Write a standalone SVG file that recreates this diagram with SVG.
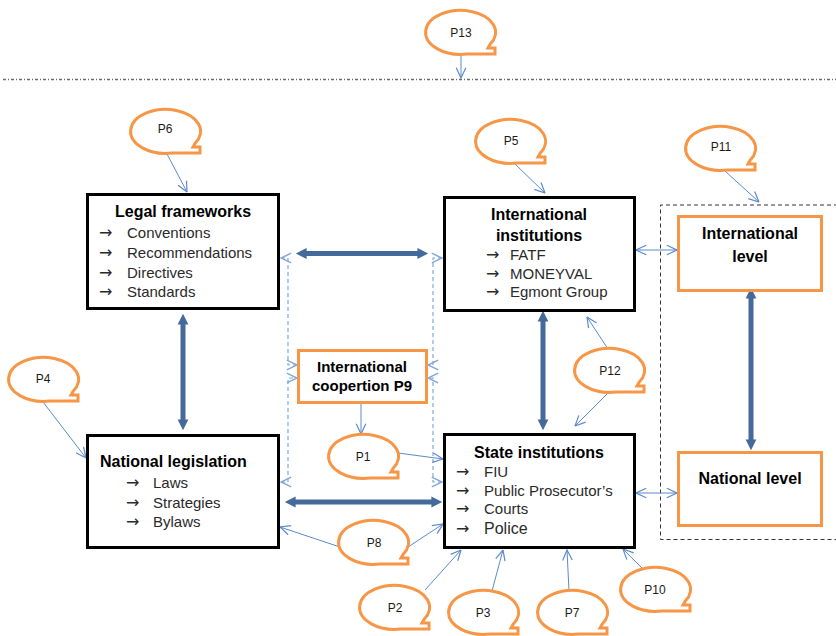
<svg xmlns="http://www.w3.org/2000/svg" width="836" height="636" viewBox="0 0 836 636">
  <style>
    .box { fill: #ffffff; stroke: #000000; stroke-width: 3; }
    .obox { fill: #ffffff; stroke: #F79646; stroke-width: 3; }
    .bubble { fill: #ffffff; stroke: #F79646; stroke-width: 3; stroke-linejoin: miter; }
    .title { font-family: "Liberation Sans", Arial, sans-serif; font-weight: bold; font-size: 16px; fill: #000000; }
    .item { font-family: "Liberation Sans", Arial, sans-serif; font-size: 15px; fill: #2a2a2a; }
    .arr { font-family: "DejaVu Sans", "Liberation Sans", sans-serif; font-size: 16px; fill: #2a2a2a; }
    .plabel { font-family: "Liberation Sans", Arial, sans-serif; font-size: 12px; fill: #1a1a1a; text-anchor: middle; }
    .thin { fill: none; stroke: #5B8BCF; stroke-width: 1; }
    .thick { fill: none; stroke: #44699B; stroke-width: 5; }
    .dash { fill: none; stroke: #80A8DA; stroke-width: 1.2; stroke-dasharray: 4 3; }
  </style>
  <defs>
    <!-- oval speech bubble with a small square tail at the lower right -->
    <path id="bubble" d="M 7,21 A 35 22 0 1 1 30.3,11 L 28,15 L 35,15 L 35,21 Z"/>
    <marker id="open" markerUnits="userSpaceOnUse" markerWidth="12" markerHeight="12" viewBox="0 0 10 10" refX="9.5" refY="5" orient="auto-start-reverse">
      <path d="M 1,1 L 9.5,5 L 1,9" fill="none" stroke="#5B8BCF" stroke-width="1"/>
    </marker>
    <marker id="openDash" markerUnits="userSpaceOnUse" markerWidth="12" markerHeight="12" viewBox="0 0 10 10" refX="9.5" refY="5" orient="auto-start-reverse">
      <path d="M 1,1 L 9.5,5 L 1,9" fill="none" stroke="#80A8DA" stroke-width="1.2"/>
    </marker>
    <marker id="solid" markerUnits="userSpaceOnUse" markerWidth="12" markerHeight="12" viewBox="0 0 10 10" refX="3" refY="5" orient="auto-start-reverse">
      <path d="M 0,0.5 L 9,5 L 0,9.5 Z" fill="#44699B"/>
    </marker>
  </defs>

  <!-- dash-dot separator -->
  <line x1="3" y1="79.5" x2="836" y2="79.5" stroke="#6b6b6b" stroke-width="1.5" stroke-dasharray="3 2 1 2"/>

  <!-- dashed frame around the level boxes -->
  <path d="M 838,205 H 660.5 V 539.5 H 838" fill="none" stroke="#333333" stroke-width="1" stroke-dasharray="4 3"/>

  <g id="connectors">
    <!-- thick two-way links -->
    <line class="thick" x1="303" y1="253.5" x2="421" y2="253.5" marker-start="url(#solid)" marker-end="url(#solid)"/>
    <line class="thick" x1="183" y1="321" x2="183" y2="423" marker-start="url(#solid)" marker-end="url(#solid)"/>
    <line class="thick" x1="543" y1="318" x2="543" y2="423" marker-start="url(#solid)" marker-end="url(#solid)"/>
    <line class="thick" x1="751" y1="295" x2="751" y2="443" marker-start="url(#solid)" marker-end="url(#solid)"/>
    <line class="thick" x1="292" y1="502" x2="435" y2="502" marker-start="url(#solid)" marker-end="url(#solid)"/>

    <!-- thin two-way links to the levels -->
    <line class="thin" x1="636" y1="250" x2="677" y2="250" marker-start="url(#open)" marker-end="url(#open)"/>
    <line class="thin" x1="636" y1="493" x2="677" y2="493" marker-start="url(#open)" marker-end="url(#open)"/>

    <!-- dashed elbow links through international cooperation -->
    <path class="dash" d="M 281,258 H 288 V 365 H 297" marker-start="url(#openDash)" marker-end="url(#openDash)"/>
    <path class="dash" d="M 281,482 H 288 V 378 H 297" marker-start="url(#openDash)" marker-end="url(#openDash)"/>
    <path class="dash" d="M 442,258 H 433 V 365 H 428" marker-start="url(#openDash)" marker-end="url(#openDash)"/>
    <path class="dash" d="M 442,482 H 433 V 378 H 428" marker-start="url(#openDash)" marker-end="url(#openDash)"/>

    <!-- callout pointers -->
    <line class="thin" x1="461" y1="55" x2="461" y2="78" marker-end="url(#open)"/>
    <line class="thin" x1="167" y1="154" x2="187" y2="192" marker-end="url(#open)"/>
    <line class="thin" x1="515" y1="164" x2="545" y2="193" marker-end="url(#open)"/>
    <line class="thin" x1="725" y1="171" x2="759" y2="202" marker-end="url(#open)"/>
    <line class="thin" x1="43" y1="402" x2="86" y2="458" marker-end="url(#open)"/>
    <line class="thin" x1="361" y1="404" x2="361" y2="434" marker-end="url(#open)"/>
    <line class="thin" x1="398" y1="453" x2="443" y2="459" marker-end="url(#open)"/>
    <line class="thin" x1="340" y1="547" x2="280" y2="527" marker-end="url(#open)"/>
    <line class="thin" x1="408" y1="547" x2="443" y2="524" marker-end="url(#open)"/>
    <line class="thin" x1="425" y1="590" x2="461" y2="550" marker-end="url(#open)"/>
    <line class="thin" x1="492" y1="591" x2="503" y2="550" marker-end="url(#open)"/>
    <line class="thin" x1="569" y1="591" x2="567" y2="550" marker-end="url(#open)"/>
    <line class="thin" x1="642" y1="568" x2="623" y2="549" marker-end="url(#open)"/>
    <line class="thin" x1="608" y1="349" x2="587" y2="317" marker-end="url(#open)"/>
    <line class="thin" x1="607" y1="394" x2="575" y2="426" marker-end="url(#open)"/>
  </g>

  <!-- main boxes -->
  <g id="legal-frameworks">
    <rect class="box" x="87.5" y="194.5" width="191" height="114"/>
    <text class="title" x="183" y="217" text-anchor="middle">Legal frameworks</text>
    <text class="arr" x="99" y="238">→</text><text class="item" x="127" y="238">Conventions</text>
    <text class="arr" x="99" y="258">→</text><text class="item" x="127" y="258">Recommendations</text>
    <text class="arr" x="99" y="278">→</text><text class="item" x="127" y="278">Directives</text>
    <text class="arr" x="99" y="297">→</text><text class="item" x="127" y="297">Standards</text>
  </g>

  <g id="international-institutions">
    <rect class="box" x="444.5" y="197.5" width="190" height="113"/>
    <text class="title" x="539" y="220" text-anchor="middle">International</text>
    <text class="title" x="539" y="241" text-anchor="middle">institutions</text>
    <text class="arr" x="486" y="260">→</text><text class="item" x="510" y="260">FATF</text>
    <text class="arr" x="486" y="279">→</text><text class="item" x="510" y="279">MONEYVAL</text>
    <text class="arr" x="486" y="297">→</text><text class="item" x="510" y="297">Egmont Group</text>
  </g>

  <g id="national-legislation">
    <rect class="box" x="87.5" y="435.5" width="191" height="112"/>
    <text class="title" x="100" y="467">National legislation</text>
    <text class="arr" x="126" y="488">→</text><text class="item" x="153" y="488">Laws</text>
    <text class="arr" x="126" y="508">→</text><text class="item" x="153" y="508">Strategies</text>
    <text class="arr" x="126" y="527">→</text><text class="item" x="153" y="527">Bylaws</text>
  </g>

  <g id="state-institutions">
    <rect class="box" x="444.5" y="434.5" width="190" height="113"/>
    <text class="title" x="539" y="458" text-anchor="middle">State institutions</text>
    <text class="arr" x="456" y="477">→</text><text class="item" x="484" y="477">FIU</text>
    <text class="arr" x="456" y="496">→</text><text class="item" x="484" y="496">Public Prosecutor’s</text>
    <text class="arr" x="456" y="514">→</text><text class="item" x="484" y="514">Courts</text>
    <text class="arr" x="456" y="534">→</text><text class="item" x="484" y="534" style="font-size:16px">Police</text>
  </g>

  <g id="international-cooperation">
    <rect class="obox" x="298.5" y="350.5" width="128" height="52"/>
    <text class="title" x="362" y="372" text-anchor="middle" style="font-size:15px">International</text>
    <text class="title" x="362" y="391" text-anchor="middle" style="font-size:15px">coopertion P9</text>
  </g>

  <g id="international-level">
    <rect class="obox" x="678.5" y="216.5" width="143" height="74"/>
    <text class="title" x="750" y="239" text-anchor="middle">International</text>
    <text class="title" x="750" y="262" text-anchor="middle">level</text>
  </g>

  <g id="national-level">
    <rect class="obox" x="678.5" y="452.5" width="143" height="73"/>
    <text class="title" x="750" y="484" text-anchor="middle">National level</text>
  </g>

  <!-- callouts -->
  <g id="p13"><use href="#bubble" class="bubble" transform="translate(460,33)"/><text class="plabel" x="461" y="37">P13</text></g>
  <g id="p6"><use href="#bubble" class="bubble" transform="translate(165,132)"/><text class="plabel" x="165" y="133">P6</text></g>
  <g id="p5"><use href="#bubble" class="bubble" transform="translate(510,142)"/><text class="plabel" x="511" y="145">P5</text></g>
  <g id="p11"><use href="#bubble" class="bubble" transform="translate(720,149)"/><text class="plabel" x="721" y="151">P11</text></g>
  <g id="p4"><use href="#bubble" class="bubble" transform="translate(43,380)"/><text class="plabel" x="43" y="383">P4</text></g>
  <g id="p1"><use href="#bubble" class="bubble" transform="translate(363,457)"/><text class="plabel" x="363" y="461">P1</text></g>
  <g id="p12"><use href="#bubble" class="bubble" transform="translate(609,371)"/><text class="plabel" x="610" y="375">P12</text></g>
  <g id="p8"><use href="#bubble" class="bubble" transform="translate(373,543)"/><text class="plabel" x="374" y="547">P8</text></g>
  <g id="p2"><use href="#bubble" class="bubble" transform="translate(394,608)"/><text class="plabel" x="395" y="612">P2</text></g>
  <g id="p3"><use href="#bubble" class="bubble" transform="translate(483,613)"/><text class="plabel" x="483" y="617">P3</text></g>
  <g id="p7"><use href="#bubble" class="bubble" transform="translate(572,613)"/><text class="plabel" x="572" y="617">P7</text></g>
  <g id="p10"><use href="#bubble" class="bubble" transform="translate(655,590)"/><text class="plabel" x="655" y="594">P10</text></g>
</svg>
